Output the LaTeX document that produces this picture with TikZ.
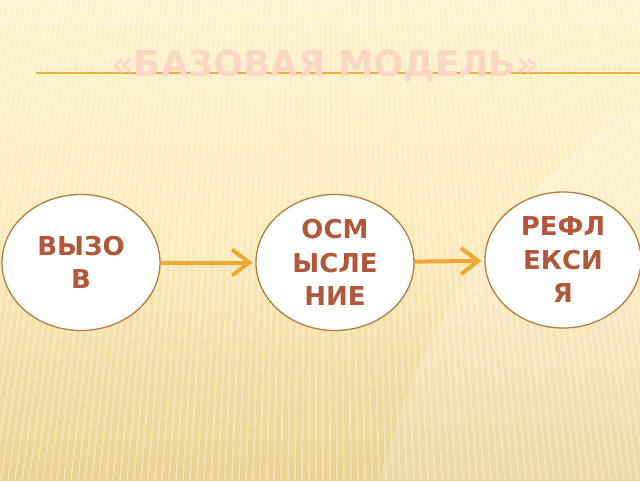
\documentclass[tikz,border=0pt]{standalone}
\usepackage{fontspec}
\setmainfont{DejaVu Sans}
\usetikzlibrary{shapes.geometric,arrows.meta}
\definecolor{bgtop}{HTML}{FEF2CC}
\definecolor{bgmid}{HTML}{FCEBBC}
\definecolor{bgbot}{HTML}{E7D292}
\definecolor{rule}{HTML}{E8AE44}
\definecolor{ttl}{HTML}{F9D6C6}
\definecolor{txt}{HTML}{B2583A}
\definecolor{rim}{HTML}{B97A3E}
\definecolor{arrc}{HTML}{EFA733}
\tikzset{
  stage/.style={ellipse, draw=rim, line width=1.3pt, fill=white, inner sep=0pt,
    minimum width=158pt, minimum height=136pt, text=txt, align=center,
    font=\fontsize{26}{33.5}\selectfont\bfseries},
  arr/.style={draw=arrc, line width=4pt, -{Straight Barb[length=17pt,width=26pt,line width=4pt]}},
  stripe/.style={white, opacity=0.35, line width=1.6pt}
}
\begin{document}
\begin{tikzpicture}[x=1pt,y=-1pt]
\useasboundingbox (0,0) rectangle (640,480);
\shade[top color=bgtop, bottom color=bgbot, middle color=bgmid] (0,0) rectangle (640,480);
\foreach \i in {-160,-153,...,800}{
  \draw[stripe] (\i,480) -- ({320+(\i-320)*0.78},0);
}
\fill[white, opacity=0.18] (380,480) .. controls (420,300) and (560,140) .. (640,110) -- (640,480) -- cycle;
\coordinate (r1) at (36,73);
\coordinate (r2) at (640,73);
\draw[rule, line width=1.8pt] (r1) -- (r2);
\node[text=ttl, font=\fontsize{35.5}{40}\selectfont\bfseries, anchor=base] (title) at (325,76) {«БАЗОВАЯ МОДЕЛЬ»};
\node[stage] (a) at (81,262.5) {ВЫЗО\\В};
\node[stage] (b) at (335,262.5) {ОСМ\\ЫСЛЕ\\НИЕ};
\node[stage, minimum width=156pt] (c) at (563,260) {РЕФЛ\\ЕКСИ\\Я};
\draw[arr, shorten >=3pt] (a) -- (b);
\draw[arr, shorten >=3pt] (b) -- (c);
\end{tikzpicture}
\end{document}
